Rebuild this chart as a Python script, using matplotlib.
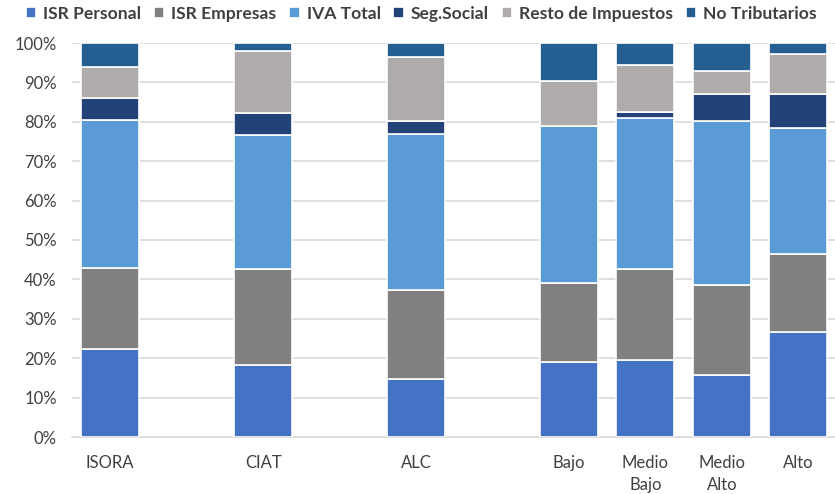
import matplotlib
matplotlib.use("Agg")
import matplotlib.pyplot as plt
import numpy as np
from matplotlib.ticker import PercentFormatter

categories = ["ISORA", "CIAT", "ALC", "Bajo", "Medio\nBajo", "Medio\nAlto", "Alto"]
positions = [0, 2, 4, 6, 7, 8, 9]

series_names = ["ISR Personal", "ISR Empresas", "IVA Total", "Seg.Social",
                "Resto de Impuestos", "No Tributarios"]
isr_personal = [22.3, 18.3, 14.7, 19.0, 19.5, 15.7, 26.7]
isr_empresas = [20.6, 24.3, 22.6, 20.2, 23.1, 22.9, 19.7]
iva_total = [37.6, 34.0, 39.6, 39.7, 38.4, 41.5, 32.1]
seg_social = [5.5, 5.6, 3.4, 0.0, 1.4, 7.0, 8.6]
resto_impuestos = [7.8, 15.8, 16.1, 11.5, 12.0, 5.9, 10.1]
no_tributarios = [6.2, 2.0, 3.6, 9.6, 5.6, 7.0, 2.8]

colors = ["#4472C4", "#808080", "#5B9BD5", "#234378", "#AEABAA", "#255E91"]

plt.rcParams['font.family'] = ['Lato', 'DejaVu Sans']

fig = plt.figure(figsize=(8.35, 4.94), dpi=100)
ax = fig.add_axes([72/835, 1-437/494, 1-72/835, (437-43)/494])

series = [isr_personal, isr_empresas, iva_total, seg_social, resto_impuestos, no_tributarios]
bottom = np.zeros(len(categories))
for name, vals, c in zip(series_names, series, colors):
    v = np.array(vals) / 100.0
    ax.bar(positions, v, bottom=bottom, width=0.76, color=c, edgecolor="white",
           linewidth=1.2, label=name, zorder=3)
    bottom += v

ax.set_ylim(0, 1)
ax.set_xlim(-0.5, 9.48)
ax.set_yticks(np.arange(0, 1.01, 0.1))
ax.yaxis.set_major_formatter(PercentFormatter(1.0, decimals=0))
ax.set_xticks(positions)
ax.set_xticklabels(categories, linespacing=1.45)
ax.grid(axis="y", color="#D9D9D9", linewidth=1.2, zorder=0)
for s in ["top", "right", "left"]:
    ax.spines[s].set_visible(False)
ax.spines["bottom"].set_color("#D9D9D9")
ax.spines["bottom"].set_linewidth(1.2)
ax.tick_params(axis="both", length=0, labelsize=12, colors="#404040")
ax.tick_params(axis="x", pad=13)
ax.tick_params(axis="y", pad=11)

leg = fig.legend(loc="upper left", bbox_to_anchor=(10/835, 1.02), ncol=6,
                 frameon=False, handlelength=0.6, handleheight=0.6,
                 handletextpad=0.4, columnspacing=0.72,
                 prop={"weight": "bold", "size": 12.6})
for t in leg.get_texts():
    t.set_color("#404040")

fig.savefig("out.png", dpi=100)
